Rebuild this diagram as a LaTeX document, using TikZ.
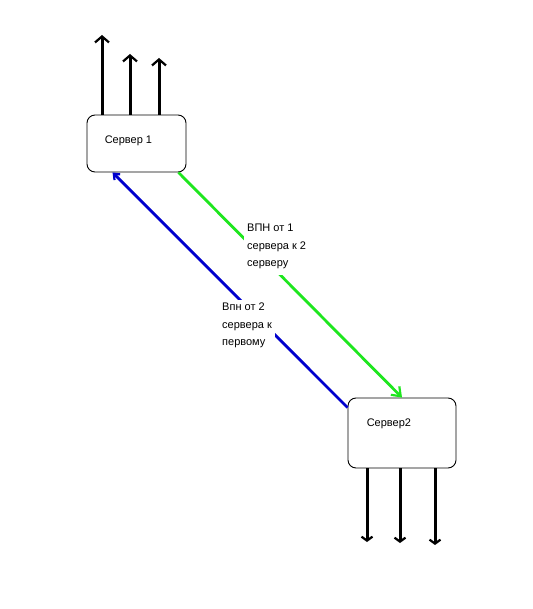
\documentclass[tikz,border=0pt]{standalone}
\usepackage{fontspec}
\setmainfont{Liberation Sans}
\usetikzlibrary{arrows.meta,positioning}
\definecolor{vpngreen}{RGB}{30,230,30}
\definecolor{vpnblue}{RGB}{0,0,205}
\tikzset{
  server/.style={rectangle, rounded corners=8pt, draw=black, line width=0.9pt,
    fill=white, inner sep=0pt},
  lbl/.style={align=left, inner sep=3pt, fill=white,
    font=\fontsize{11}{17.5}\selectfont},
  uplink/.style={-{Straight Barb[length=6pt,width=14pt,line width=2.2pt]}, draw=black, line width=3pt},
  vpn/.style={-{Straight Barb[length=8pt,width=12pt,line width=2.2pt]}, line width=2.8pt},
}

\begin{document}
\begin{tikzpicture}[x=1pt, y=-1pt]
\useasboundingbox (0,0) rectangle (532,609);
% servers
\node[server, minimum width=99pt, minimum height=57pt] at (136.5,143.5) (s1) {};
\node[server, minimum width=108pt, minimum height=70pt] at (402,433) (s2) {};
\node[lbl, fill=none, anchor=west] at ([xshift=15pt,yshift=-26pt]s1.north west) (n1) {Сервер 1};
\node[lbl, fill=none, anchor=west] at ([xshift=16pt,yshift=-26pt]s2.north west) (n2) {Сервер2};
% free ends of the links
\coordinate (t1) at (102,35);
\coordinate (t2) at (130,54);
\coordinate (t3) at (159,58);
\coordinate (b1) at (367,542);
\coordinate (b2) at (400,543);
\coordinate (b3) at (435,545);
\foreach \t in {t1,t2,t3} \draw[uplink] (\t |- s1.north) -- (\t);
\foreach \b in {b1,b2,b3} \draw[uplink, -{Straight Barb[length=4pt,width=11pt,line width=2.2pt]}] (\b |- s2.south) -- (\b);
% tunnels
\draw[vpn, vpngreen] ([xshift=-8pt]s1.south east) -- (s2.north);
\draw[vpn, vpnblue, -{Straight Barb[length=5pt,width=8pt,line width=2.2pt]}] ([yshift=-10pt]s2.north west) -- ([xshift=26pt]s1.south west);
\node[lbl, anchor=north west, inner ysep=6pt] at (244,218) (v12) {ВПН от 1\\сервера к 2\\серверу};
\node[lbl, anchor=north west] at (219,300) (v21) {Впн от 2\\сервера к\\первому};
\end{tikzpicture}
\end{document}
